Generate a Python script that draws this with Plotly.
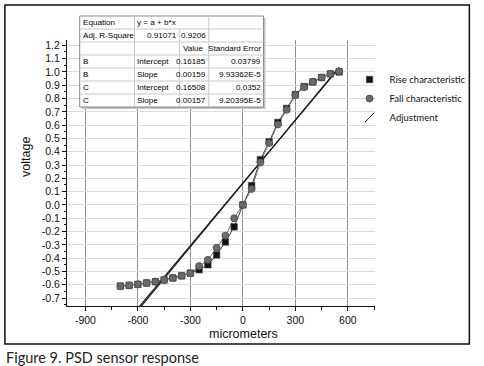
import numpy as np
import plotly.graph_objects as go

# ---------------- data ----------------
x_um = [-700, -650, -600, -550, -500, -450, -400, -350, -300, -250, -200, -150, -100,
        -50, 0, 50, 100, 150, 200, 250, 300, 350, 400, 450, 500, 550]
rise = [-0.61, -0.605, -0.597, -0.587, -0.577, -0.564, -0.549, -0.533, -0.513, -0.487,
        -0.45, -0.376, -0.279, -0.165, 0.0, 0.145, 0.34, 0.475, 0.62, 0.725, 0.83,
        0.89, 0.925, 0.958, 0.985, 1.0]
fall = [-0.612, -0.604, -0.597, -0.587, -0.577, -0.564, -0.549, -0.533, -0.513, -0.46,
        -0.413, -0.322, -0.231, -0.1, 0.0, 0.12, 0.32, 0.465, 0.605, 0.715, 0.825,
        0.885, 0.925, 0.958, 0.985, 1.003]

fit_names = ["B", "C"]
fit_intercepts = [0.16185, 0.16508]
fit_slopes = [0.00159, 0.00157]
fit_intercept_txt = ["0.16185", "0.16508"]
fit_slope_txt = ["0.00159", "0.00157"]
fit_intercept_se = ["0.03799", "0.0352"]
fit_slope_se = ["9.93362E-5", "9.20395E-5"]
adj_r2 = ["0.91071", "0.9206"]
equation_txt = "y = a + b*x"

x_tick_vals = [-900, -600, -300, 0, 300, 600]
x_tick_text = ["-900", "-600", "-300", "0", "300", "600"]
y_tick_vals = [-0.7, -0.6, -0.5, -0.4, -0.3, -0.2, -0.1, 0.0, 0.1, 0.2, 0.3, 0.4,
               0.5, 0.6, 0.7, 0.8, 0.9, 1.0, 1.1, 1.2]
y_tick_text = ["-0.7", "-0.6", "-0.5", "-0.4", "-0.3", "-0.2", "-0.1", "0.0", "0.1",
               "0.2", "0.3", "0.4", "0.5", "0.6", "0.7", "0.8", "0.9", "1.0", "1.1", "1.2"]

# ---------------- layout geometry (pixels) ----------------
W, H = 484, 366
PL, PR, PT, PB = 67, 382, 40, 306


def px(xp):
    return (xp - PL) / (PR - PL)


def py(yp):
    return (PB - yp) / (PB - PT)


fig = go.Figure()

# connecting lines
fig.add_trace(go.Scatter(x=x_um, y=rise, mode="lines", line=dict(color="#3a3a3a", width=1),
                         showlegend=False, hoverinfo="skip"))
fig.add_trace(go.Scatter(x=x_um, y=fall, mode="lines", line=dict(color="#777777", width=1),
                         showlegend=False, hoverinfo="skip"))

# fit lines
xf = np.array([min(x_um), max(x_um)], dtype=float)
for a, b in zip(fit_intercepts, fit_slopes):
    fig.add_trace(go.Scatter(x=xf, y=a + b * xf, mode="lines",
                             line=dict(color="#1e1e1e", width=1.2),
                             showlegend=False, hoverinfo="skip"))

# markers
fig.add_trace(go.Scatter(x=x_um, y=rise, mode="markers", name="Rise characteristic",
                         marker=dict(symbol="square", size=6.5, color="#111111",
                                     line=dict(color="#444444", width=0.6)),
                         legendrank=1))
fig.add_trace(go.Scatter(x=x_um, y=fall, mode="markers", name="Fall characteristic",
                         marker=dict(symbol="circle", size=7, color="#6a6a6a",
                                     line=dict(color="#4a4a4a", width=0.8)),
                         legendrank=2))
fig.add_trace(go.Scatter(x=[None], y=[None], mode="markers", name="Adjustment",
                         marker=dict(symbol="line-ne", size=9, color="#222222",
                                     line=dict(color="#222222", width=1)),
                         legendrank=3))

shapes = []
annotations = []

# ---------------- parameter table ----------------
col_b = [80, 136, 182, 212, 268]
row_top, row_h = 16, 13.0
rows = 7
tbl_bot = row_top + rows * row_h
shapes.append(dict(type="rect", xref="paper", yref="paper", x0=px(col_b[0] + 2), x1=px(col_b[-1] + 2),
                   y0=py(row_top + 2), y1=py(tbl_bot + 2), fillcolor="#c4c4c4",
                   line=dict(width=0), layer="above"))
shapes.append(dict(type="rect", xref="paper", yref="paper", x0=px(col_b[0]), x1=px(col_b[-1]),
                   y0=py(row_top), y1=py(tbl_bot), fillcolor="white",
                   line=dict(color="#8a8a8a", width=1), layer="above"))
for r in range(1, rows):
    yy = row_top + r * row_h
    shapes.append(dict(type="line", xref="paper", yref="paper", x0=px(col_b[0]), x1=px(col_b[-1]),
                       y0=py(yy), y1=py(yy), line=dict(color="#c8c8c8", width=1), layer="above"))
for ci, cx in enumerate(col_b[1:-1], start=1):
    y_start = row_top + (row_h if ci == 2 else 0)
    shapes.append(dict(type="line", xref="paper", yref="paper", x0=px(cx), x1=px(cx),
                       y0=py(y_start), y1=py(tbl_bot), line=dict(color="#c8c8c8", width=1),
                       layer="above"))

table_cells = [
    ["Equation", equation_txt, "", ""],
    ["Adj. R-Square", adj_r2[0], adj_r2[1], ""],
    ["", "", "Value", "Standard Error"],
]
for i, nm in enumerate(fit_names):
    table_cells.append([nm, "Intercept", fit_intercept_txt[i], fit_intercept_se[i]])
    table_cells.append([nm, "Slope", fit_slope_txt[i], fit_slope_se[i]])

tfont = dict(family="Liberation Sans, Arial", size=8.1, color="#000000")
for r, row in enumerate(table_cells):
    yc = py(row_top + (r + 0.5) * row_h)
    for c, txt in enumerate(row):
        if not txt:
            continue
        numeric = txt[0].isdigit()
        if c == 0 or (c == 1 and not numeric):
            xa, xanchor = px(col_b[c] + 2), "left"
        elif txt == "Value":
            xa, xanchor = px((col_b[c] + col_b[c + 1]) / 2 - 1), "center"
        else:
            xa, xanchor = px(col_b[c + 1] - 1.5), "right"
        annotations.append(dict(text=txt, xref="paper", yref="paper", x=xa, y=yc,
                                xanchor=xanchor, yanchor="middle", showarrow=False,
                                font=tfont, borderpad=0))

# ---------------- axis titles & caption ----------------
annotations.append(dict(text="micrometers", xref="paper", yref="paper", x=px(247), y=py(334),
                        xanchor="center", yanchor="middle", showarrow=False,
                        font=dict(family="Liberation Sans, Arial", size=12.5, color="#111")))
annotations.append(dict(text="voltage", xref="paper", yref="paper", x=px(25), y=py(157),
                        xanchor="center", yanchor="middle", showarrow=False, textangle=-90,
                        font=dict(family="Liberation Sans, Arial", size=12.5, color="#111")))
annotations.append(dict(text="Figure 9. PSD sensor response", xref="paper", yref="paper",
                        x=px(3), y=py(357), xanchor="left", yanchor="middle", showarrow=False,
                        font=dict(family="Lato", size=14.5, color="#222")))

# outer frame
shapes.append(dict(type="rect", xref="paper", yref="paper", x0=px(3.5), x1=px(478.5),
                   y0=py(5), y1=py(344), line=dict(color="#111", width=1.5), layer="above"))

fig.update_layout(
    width=W, height=H,
    margin=dict(l=PL, r=W - PR, t=PT, b=H - PB),
    paper_bgcolor="white", plot_bgcolor="white",
    shapes=shapes, annotations=annotations,
    legend=dict(x=px(356), y=py(65), xanchor="left", yanchor="top",
                font=dict(family="Lato", size=9.5, color="#111"),
                bgcolor="rgba(0,0,0,0)", itemwidth=30, tracegroupgap=0,
                borderwidth=0),
    xaxis=dict(range=[-1005, 755], tickvals=x_tick_vals, ticktext=x_tick_text,
               showgrid=True, gridcolor="#8e8e8e", gridwidth=1.3, zeroline=False,
               showline=True, linecolor="#111", linewidth=1, ticks="outside", ticklen=4,
               tickcolor="#111",
               minor=dict(dtick=150, tick0=-900, ticks="outside", ticklen=3, tickcolor="#111",
                          showgrid=False),
               tickfont=dict(family="Liberation Sans, Arial", size=10.5, color="#111")),
    yaxis=dict(range=[-0.76, 1.24], tickvals=y_tick_vals, ticktext=y_tick_text,
               showgrid=True, gridcolor="#dadada", gridwidth=1, zeroline=False,
               showline=True, linecolor="#111", linewidth=1, ticks="outside", ticklen=4,
               tickcolor="#111",
               minor=dict(dtick=0.05, tick0=0, ticks="outside", ticklen=2, tickcolor="#111",
                          showgrid=False),
               tickfont=dict(family="Liberation Sans, Arial", size=10.5, color="#111")),
)

fig.write_html("out.html", config={"displayModeBar": False},
               post_script="document.body.style.margin='0';document.body.style.padding='0';")
